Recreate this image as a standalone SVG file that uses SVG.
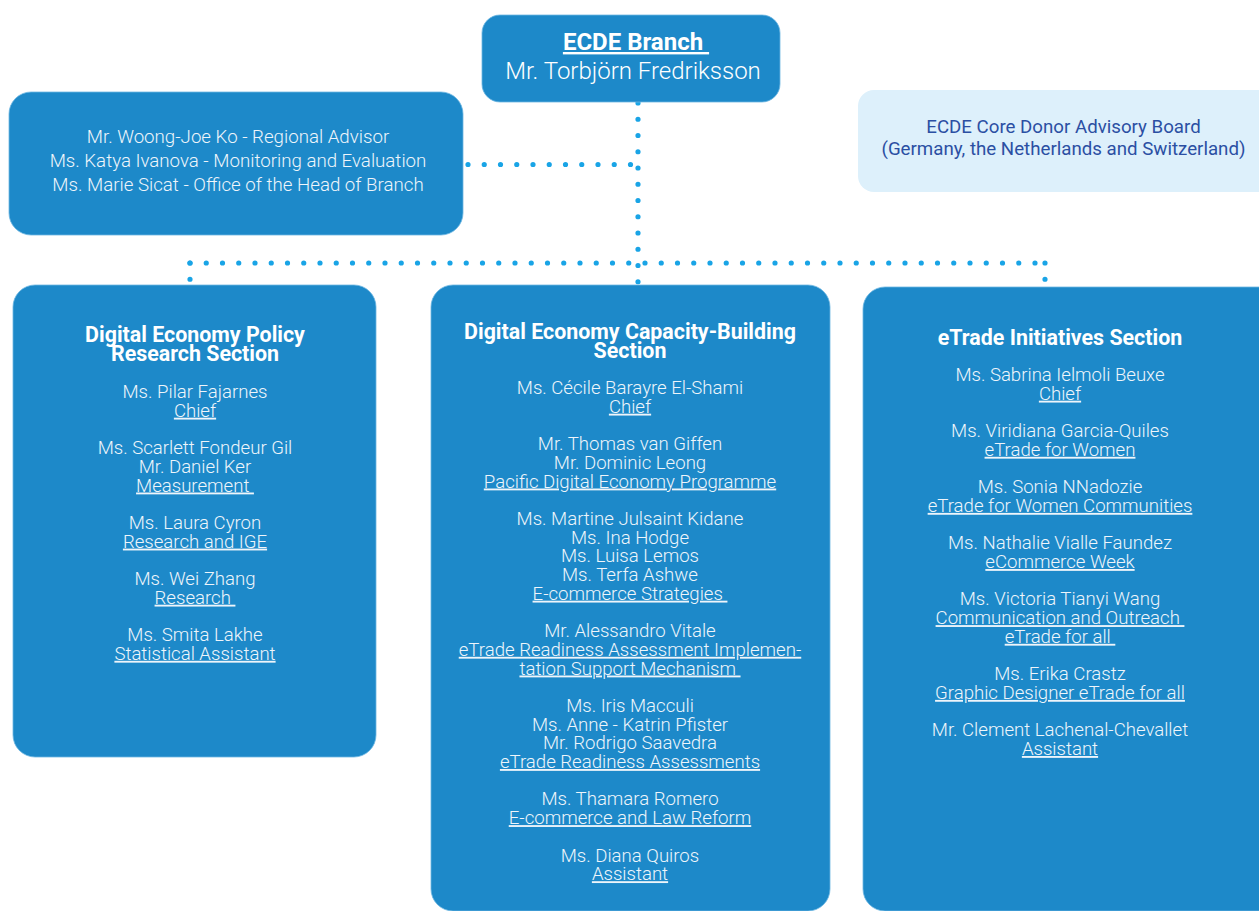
<svg xmlns="http://www.w3.org/2000/svg" width="1259" height="911" viewBox="0 0 1259 911">
  <style>
    .box { fill: #1d89c9; stroke: #6cb6e2; stroke-width: 0.8; }
    .adv { fill: #ddf0fb; }
    .dots { fill: none; stroke: #19a4e6; stroke-width: 5.2; stroke-linecap: round; stroke-dasharray: 0 16.25; }
    text { font-family: Roboto, "Liberation Sans", sans-serif; text-anchor: middle; white-space: pre; }
    .t { fill: #eef5fb; font-weight: 300; font-size: 18.6px; }
    .u { text-decoration: underline; }
    .hd { fill: #ffffff; font-weight: 700; font-size: 21.4px; }
    .top { fill: #ffffff; font-size: 24px; }
    .advt { fill: #2b4fa3; font-size: 18.7px; font-weight: 400; }
    .side { fill: #eef5fb; font-weight: 300; font-size: 18.7px; }
  </style>

  <!-- dotted reporting lines -->
  <g id="connectors">
    <path class="dots" d="M638,103 V282"/>
    <path class="dots" d="M468,164.5 H632"/>
    <path class="dots" d="M190,263 H1045"/>
    <path class="dots" d="M190,263 V280"/>
    <path class="dots" d="M1045,263 V280"/>
  </g>

  <g id="branch-head">
    <rect class="box" x="482" y="15" width="298" height="87" rx="18"/>
    <text class="top u" x="636" y="50" font-weight="700">ECDE Branch </text>
    <text class="top" x="633" y="79" font-weight="300">Mr. Torbjörn Fredriksson</text>
  </g>

  <g id="advisory-board">
    <rect class="adv" x="858" y="90" width="420" height="102" rx="16"/>
    <text class="advt" x="1063.5" y="133">ECDE Core Donor Advisory Board</text>
    <text class="advt" x="1063.5" y="155">(Germany, the Netherlands and Switzerland)</text>
  </g>

  <g id="head-office">
    <rect class="box" x="9" y="92" width="454" height="143" rx="22"/>
    <text class="side" x="238" y="143">Mr. Woong-Joe Ko - Regional Advisor</text>
    <text class="side" x="238" y="167">Ms. Katya Ivanova - Monitoring and Evaluation</text>
    <text class="side" x="238" y="191">Ms. Marie Sicat - Office of the Head of Branch</text>
  </g>

  <g id="policy-research">
    <rect class="box" x="13" y="285" width="363" height="472" rx="22"/>
    <text class="hd" x="195" y="342">Digital Economy Policy</text>
    <text class="hd" x="195" y="361">Research Section</text>
    <text class="t" x="195" y="398">Ms. Pilar Fajarnes</text>
    <text class="t u" x="195" y="416.7">Chief</text>
    <text class="t" x="195" y="454.1">Ms. Scarlett Fondeur Gil</text>
    <text class="t" x="195" y="472.8">Mr. Daniel Ker</text>
    <text class="t u" x="195" y="491.5">Measurement </text>
    <text class="t" x="195" y="528.9">Ms. Laura Cyron</text>
    <text class="t u" x="195" y="547.6">Research and IGE</text>
    <text class="t" x="195" y="585">Ms. Wei Zhang</text>
    <text class="t u" x="195" y="603.7">Research </text>
    <text class="t" x="195" y="641.1">Ms. Smita Lakhe</text>
    <text class="t u" x="195" y="659.8">Statistical Assistant</text>
  </g>

  <g id="capacity-building">
    <rect class="box" x="431" y="285" width="399" height="626" rx="22"/>
    <text class="hd" x="630" y="339">Digital Economy Capacity-Building</text>
    <text class="hd" x="630" y="358">Section</text>
    <text class="t" x="630" y="394">Ms. Cécile Barayre El-Shami</text>
    <text class="t u" x="630" y="412.7">Chief</text>
    <text class="t" x="630" y="450.1">Mr. Thomas van Giffen</text>
    <text class="t" x="630" y="468.8">Mr. Dominic Leong</text>
    <text class="t u" x="630" y="487.5">Pacific Digital Economy Programme</text>
    <text class="t" x="630" y="524.9">Ms. Martine Julsaint Kidane</text>
    <text class="t" x="630" y="543.6">Ms. Ina Hodge</text>
    <text class="t" x="630" y="562.3">Ms. Luisa Lemos</text>
    <text class="t" x="630" y="581">Ms. Terfa Ashwe</text>
    <text class="t u" x="630" y="599.7">E-commerce Strategies </text>
    <text class="t" x="630" y="637.1">Mr. Alessandro Vitale</text>
    <text class="t u" x="630" y="655.8">eTrade Readiness Assessment Implemen-</text>
    <text class="t u" x="630" y="674.5">tation Support Mechanism </text>
    <text class="t" x="630" y="711.9">Ms. Iris Macculi</text>
    <text class="t" x="630" y="730.6">Ms. Anne - Katrin Pfister</text>
    <text class="t" x="630" y="749.3">Mr. Rodrigo Saavedra</text>
    <text class="t u" x="630" y="768">eTrade Readiness Assessments</text>
    <text class="t" x="630" y="805.4">Ms. Thamara Romero</text>
    <text class="t u" x="630" y="824.1">E-commerce and Law Reform</text>
    <text class="t" x="630" y="861.5">Ms. Diana Quiros</text>
    <text class="t u" x="630" y="880.2">Assistant</text>
  </g>

  <g id="etrade-initiatives">
    <rect class="box" x="863" y="287" width="420" height="624" rx="22"/>
    <text class="hd" x="1060" y="345">eTrade Initiatives Section</text>
    <text class="t" x="1060" y="381">Ms. Sabrina Ielmoli Beuxe</text>
    <text class="t u" x="1060" y="399.7">Chief</text>
    <text class="t" x="1060" y="437.1">Ms. Viridiana Garcia-Quiles</text>
    <text class="t u" x="1060" y="455.8">eTrade for Women</text>
    <text class="t" x="1060" y="493.2">Ms. Sonia NNadozie</text>
    <text class="t u" x="1060" y="511.9">eTrade for Women Communities</text>
    <text class="t" x="1060" y="549.3">Ms. Nathalie Vialle Faundez</text>
    <text class="t u" x="1060" y="568">eCommerce Week</text>
    <text class="t" x="1060" y="605.4">Ms. Victoria Tianyi Wang</text>
    <text class="t u" x="1060" y="624.1">Communication and Outreach </text>
    <text class="t u" x="1060" y="642.8">eTrade for all </text>
    <text class="t" x="1060" y="680.2">Ms. Erika Crastz</text>
    <text class="t u" x="1060" y="698.9">Graphic Designer eTrade for all</text>
    <text class="t" x="1060" y="736.3">Mr. Clement Lachenal-Chevallet</text>
    <text class="t u" x="1060" y="755">Assistant</text>
  </g>
</svg>
